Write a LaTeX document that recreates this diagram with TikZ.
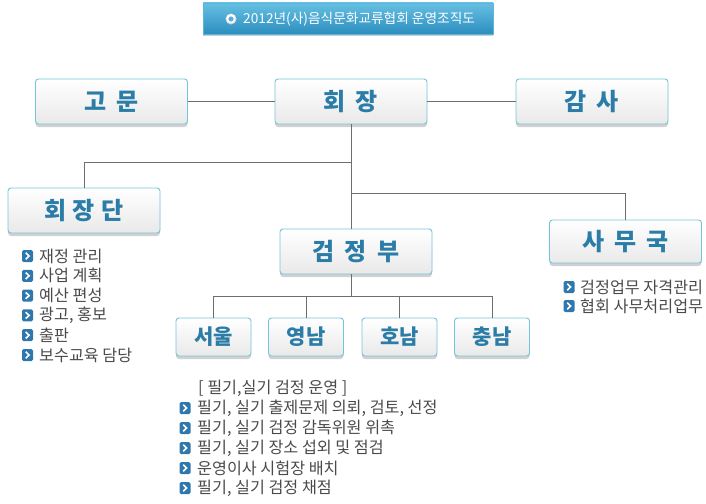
\documentclass[tikz,border=0pt]{standalone}
\usepackage{fontspec}
\setmainfont{Noto Sans CJK KR}
\usetikzlibrary{shadows}
\definecolor{lbl}{HTML}{2B7CA6}
\definecolor{boxborder}{HTML}{74C4D9}
\definecolor{boxbot}{HTML}{E9E9E9}
\definecolor{connc}{HTML}{6E6E6E}
\definecolor{listc}{HTML}{4A4A4A}
\definecolor{bulc}{HTML}{2F78AD}
\definecolor{ttop}{HTML}{66C0E2}
\definecolor{tbot}{HTML}{2C8DBF}
\definecolor{icoc}{HTML}{5AAED8}
\newcommand{\gp}{\hspace{10pt}}
\newcommand{\gq}{\hspace{6pt}}
\tikzset{
  bul/.pic={\fill[bulc, rounded corners=1.5pt] (-5.5,-6) rectangle (5.5,6);
            \draw[white, line width=1.6pt] (-1.8,-3.2) -- (1.6,0) -- (-1.8,3.2);},
  mainbox/.style={draw=boxborder, line width=0.9pt, rounded corners=3pt,
    top color=white, bottom color=boxbot, minimum width=152pt, minimum height=45pt,
    font=\bfseries\fontsize{24}{24}\selectfont, text=lbl, inner sep=0pt,
    drop shadow={shadow xshift=0pt, shadow yshift=-3pt, opacity=0.18, fill=black}},
  regbox/.style={mainbox, minimum width=75pt, minimum height=38pt,
    font=\bfseries\fontsize{21}{21}\selectfont},
  conn/.style={draw=connc, line width=1pt},
  item/.style={anchor=west, inner sep=0pt, text=listc, font=\fontsize{16.2}{16.2}\selectfont},
}
\begin{document}
\begin{tikzpicture}[x=1pt,y=-1pt]
\useasboundingbox (0,0) rectangle (706,503);
% title
\node[draw=ttop!80!tbot, line width=0.8pt, top color=ttop, bottom color=tbot,
  minimum width=290pt, minimum height=31pt, inner sep=0pt,
  drop shadow={shadow xshift=0pt, shadow yshift=-2pt, opacity=0.2, fill=black}] (tb) at (348,18.5) {};
\node[anchor=west, inner sep=0pt, text=white, font=\fontsize{13.7}{13.7}\selectfont] (tt) at (243,19) {2012년(사)음식문화교류협회 운영조직도};
\fill[black!15] (231,19) circle (5.5);
\fill[white] (231,18.6) circle (4.6);
\fill[icoc] (231,19) circle (2.6);
% main boxes
\node[mainbox] (gm) at (111.5,101.5) {고\gp 문};
\node[mainbox] (hj) at (351,101.5) {회\gp 장};
\node[mainbox] (gs) at (592,101.5) {감\gp 사};
\node[mainbox] (hjd) at (84,210.5) {회\gq 장\gq 단};
\node[mainbox] (gjb) at (356,251.5) {검\gp 정\gp 부};
\node[mainbox, minimum height=43pt] (smg) at (625.5,241.5) {사\gp 무\gp 국};
\node[regbox] (r1) at (213.5,337) {서울};
\node[regbox] (r2) at (306,337) {영남};
\node[regbox] (r3) at (399.5,337) {호남};
\node[regbox] (r4) at (492,337) {충남};
% connectors
\coordinate (b1) at (0,162);
\coordinate (b2) at (0,193);
\coordinate (b3) at (0,296);
\draw[conn] (gm) -- (hj);
\draw[conn] (hj) -- (gs);
\draw[conn] (hj.south) -- (hj.south |- gjb.north);
\draw[conn] (hj.south |- b1) -| (hjd.north);
\draw[conn] (hj.south |- b2) -| (smg.north);
\draw[conn] (hj.south |- gjb.south) -- (hj.south |- b3);
\draw[conn] (r1.north |- b3) -- (r4.north |- b3);
\foreach \r in {r1,r2,r3,r4} \draw[conn] (\r.north |- b3) -- (\r.north);
% list of 회장단
\foreach \t [count=\i from 0] in {재정 관리, 사업 계획, 예산 편성, {광고, 홍보}, 출판, 보수교육 담당} {
  \pic at (27.5,{256+19.8*\i}) {bul};
  \node[item] (ha\i) at (39,{256+19.8*\i}) {\t};
}
% list of 사무국
\foreach \t [count=\i from 0] in {검정업무 자격관리, 협회 사무처리업무} {
  \pic at (569,{287+19*\i}) {bul};
  \node[item] (sa\i) at (580,{287+19*\i}) {\t};
}
% list of 검정부
\node[item] (gh) at (198,388) {[ 필기,실기 검정 운영 ]};
\foreach \t [count=\i from 1] in {{필기, 실기 출제문제 의뢰, 검토, 선정}, {필기, 실기 검정 감독위원 위촉}, {필기, 실기 장소 섭외 및 점검}, 운영이사 시험장 배치, {필기, 실기 검정 채점}} {
  \pic at (185,{388+20*\i}) {bul};
  \node[item] (gl\i) at (197,{388+20*\i}) {\t};
}
\end{tikzpicture}
\end{document}
